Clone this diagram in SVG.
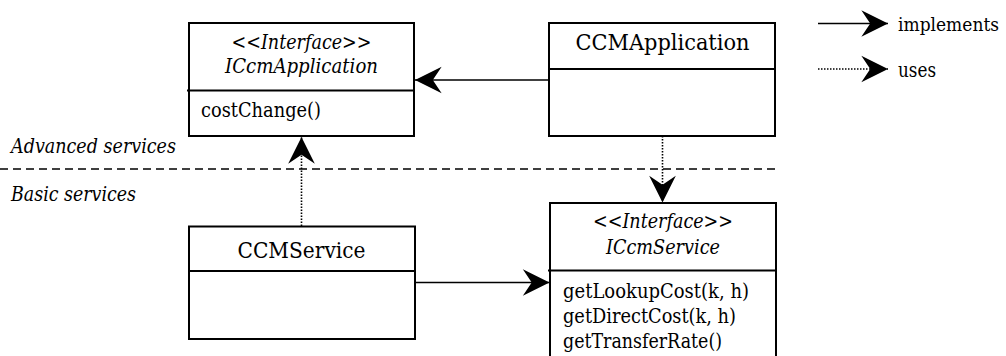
<svg xmlns="http://www.w3.org/2000/svg" width="1006" height="356" viewBox="0 0 1006 356">
<style>
.box{fill:#fff;stroke:#000;stroke-width:2}
.div{stroke:#000;stroke-width:2}
.t{font-family:"DejaVu Serif Condensed","DejaVu Serif","Liberation Serif",serif;font-size:21px;fill:#000}
.big{font-size:22.5px}
.sm{font-size:19px}
.i{font-style:italic}
.c{text-anchor:middle}
.solid{stroke:#000;stroke-width:1.6;fill:none}
.dot{stroke:#000;stroke-width:1.6;fill:none;stroke-dasharray:1.5 1.5}
.dash{stroke:#000;stroke-width:1.6;fill:none;stroke-dasharray:8 5}
</style>
<defs>
<marker id="ah" markerUnits="userSpaceOnUse" markerWidth="30" markerHeight="30" viewBox="-25 -13 27 26" refX="0" refY="0" orient="auto">
<path d="M0,0 L-24,-12 L-16,0 L-24,12 Z" fill="#000"/>
</marker>
</defs>
<line class="dash" x1="0" y1="169" x2="776" y2="169"/>
<text class="t i" x="11" y="153" textLength="165" lengthAdjust="spacingAndGlyphs">Advanced services</text>
<text class="t i" x="11" y="201" textLength="125" lengthAdjust="spacingAndGlyphs">Basic services</text>
<g id="ICcmApplication">
<rect class="box" x="189" y="23" width="225" height="113"/>
<line class="div" x1="187" y1="90.5" x2="414" y2="90.5"/>
<text class="t i c" x="301.5" y="49" textLength="140" lengthAdjust="spacingAndGlyphs">&lt;&lt;Interface&gt;&gt;</text>
<text class="t i c" x="301.5" y="73" textLength="153" lengthAdjust="spacingAndGlyphs">ICcmApplication</text>
<text class="t" x="201" y="117" textLength="120" lengthAdjust="spacingAndGlyphs">costChange()</text>
</g>
<g id="CCMApplication">
<rect class="box" x="549" y="23" width="226" height="113"/>
<line class="div" x1="548" y1="69" x2="775" y2="69"/>
<text class="t big c" x="662.5" y="50" textLength="174" lengthAdjust="spacingAndGlyphs">CCMApplication</text>
</g>
<g id="CCMService">
<rect class="box" x="189" y="226.5" width="226" height="112.5"/>
<line class="div" x1="189" y1="271" x2="415" y2="271"/>
<text class="t big c" x="301.5" y="258" textLength="128" lengthAdjust="spacingAndGlyphs">CCMService</text>
</g>
<g id="ICcmService">
<rect class="box" x="550" y="203" width="226" height="160"/>
<line class="div" x1="548" y1="270.5" x2="776" y2="270.5"/>
<text class="t i c" x="663" y="228" textLength="140" lengthAdjust="spacingAndGlyphs">&lt;&lt;Interface&gt;&gt;</text>
<text class="t i c" x="663" y="254" textLength="114" lengthAdjust="spacingAndGlyphs">ICcmService</text>
<text class="t" x="563" y="298" textLength="186" lengthAdjust="spacingAndGlyphs">getLookupCost(k, h)</text>
<text class="t" x="563" y="323" textLength="173" lengthAdjust="spacingAndGlyphs">getDirectCost(k, h)</text>
<text class="t" x="563" y="348" textLength="159" lengthAdjust="spacingAndGlyphs">getTransferRate()</text>
</g>
<g id="connectors">
<line class="solid" x1="549" y1="80" x2="415" y2="80" marker-end="url(#ah)"/>
<line class="dot" x1="301.5" y1="226" x2="301.5" y2="137" marker-end="url(#ah)"/>
<line class="dot" x1="662.5" y1="136" x2="662.5" y2="202.5" marker-end="url(#ah)"/>
<line class="solid" x1="415" y1="282.5" x2="549.5" y2="282.5" marker-end="url(#ah)"/>
</g>
<g id="legend">
<line class="solid" x1="818" y1="23.5" x2="888" y2="23.5" marker-end="url(#ah)"/>
<text class="t sm" x="898" y="31" textLength="101" lengthAdjust="spacingAndGlyphs">implements</text>
<line class="dot" x1="818" y1="69" x2="888" y2="69" marker-end="url(#ah)"/>
<text class="t" x="898" y="77" textLength="38" lengthAdjust="spacingAndGlyphs">uses</text>
</g>
</svg>
